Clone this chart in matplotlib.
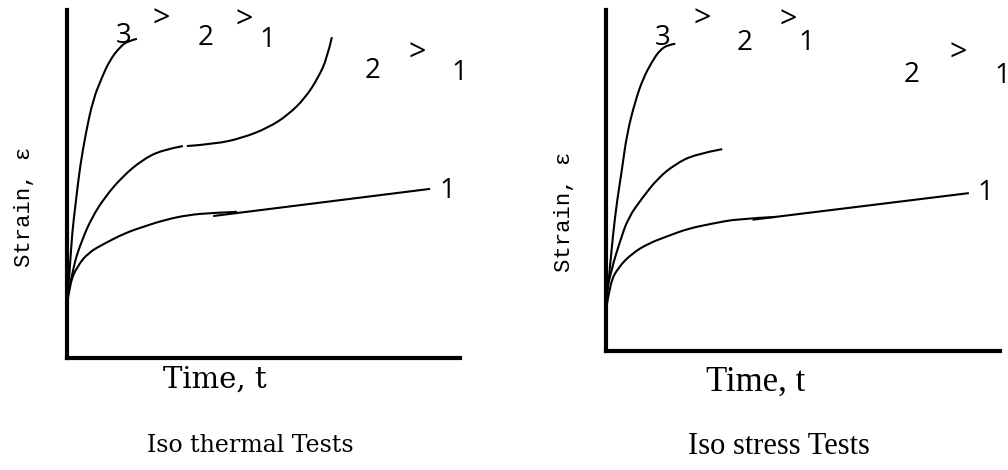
import matplotlib
matplotlib.use("Agg")
import matplotlib.pyplot as plt
from matplotlib.path import Path
from matplotlib.patches import PathPatch

W, H, DPI = 1008, 470, 100
INK = "black"

# creep curves, arbitrary units (time 0-100, strain 0-100)
# iso-thermal tests: three stress levels
iso_t_t3 = [0, 0.76, 1.3, 2.3, 3.3, 4.8, 6.6, 8.9, 10.9, 13.5, 15.5, 17.8]
iso_t_e3 = [15.8, 26.1, 35.9, 45.4, 54.9, 64.7, 74.1, 80.7, 85.6, 89.4, 91.1, 91.7]
iso_t_t2a = [0, 1.5, 3.8, 6.4, 9.7, 14.0, 19.1, 24.2, 29.5]
iso_t_e2a = [16.7, 26.1, 33.9, 40.5, 46.3, 52.0, 56.9, 59.8, 60.9]
iso_t_t2b = [30.5, 37.7, 44.5, 51.1, 56.2, 60.6, 63.9, 66.2, 67.4]
iso_t_e2b = [60.9, 61.5, 63.2, 66.1, 69.8, 74.7, 80.5, 86.2, 92.2]
iso_t_t1 = [0, 0.76, 2.5, 5.3, 9.7, 14.8, 19.1, 24.9, 30.8, 36.9, 43.3]
iso_t_e1 = [15.2, 21.6, 26.1, 30.2, 33.0, 35.9, 37.6, 39.7, 41.1, 41.7, 42.0]
iso_t_t1s = [37.2, 92.4]
iso_t_e1s = [40.8, 48.6]

# iso-stress tests: three temperatures
iso_s_t3 = [0, 1.0, 1.8, 2.8, 4.1, 5.3, 7.4, 9.4, 11.7, 13.7, 15.8, 17.6]
iso_s_e3 = [12.8, 24.5, 34.3, 44.0, 53.6, 63.6, 73.2, 79.9, 84.9, 88.3, 89.8, 90.1]
iso_s_t2 = [0, 1.5, 3.6, 5.6, 9.2, 13.2, 17.6, 22.6, 29.5]
iso_s_e2 = [16.9, 24.5, 32.3, 39.0, 44.9, 50.7, 54.8, 57.7, 59.2]
iso_s_t1 = [0, 1.0, 3.1, 6.6, 10.7, 15.9, 20.9, 26.7, 33.6, 43.0]
iso_s_e1 = [11.9, 19.9, 24.5, 28.6, 31.5, 33.8, 35.9, 37.3, 38.8, 39.3]
iso_s_t1s = [37.2, 92.1]
iso_s_e1s = [38.5, 46.3]

fig = plt.figure(figsize=(W / DPI, H / DPI), dpi=DPI)


def px_axes(x0, x1, ytop, ybot):
    ax = fig.add_axes([x0 / W, 1 - ybot / H, (x1 - x0) / W, (ybot - ytop) / H])
    ax.set_xlim(0, 100); ax.set_ylim(0, 100)
    ax.set_xticks([]); ax.set_yticks([])
    for sp in ["top", "right"]:
        ax.spines[sp].set_visible(False)
    for sp in ["left", "bottom"]:
        ax.spines[sp].set_linewidth(3.0); ax.spines[sp].set_color(INK)
    ax.patch.set_alpha(0)
    return ax


def curve(ax, t, e):
    # smooth quadratic B-spline through the sampled points
    pts = list(zip(t, e))
    if len(pts) < 3:
        verts, codes = pts, [Path.MOVETO, Path.LINETO]
    else:
        verts, codes = [pts[0]], [Path.MOVETO]
        for i in range(1, len(pts) - 1):
            nxt = pts[i + 1] if i == len(pts) - 2 else (
                (pts[i][0] + pts[i + 1][0]) / 2, (pts[i][1] + pts[i + 1][1]) / 2)
            verts += [pts[i], nxt]
            codes += [Path.CURVE3, Path.CURVE3]
    ax.add_patch(PathPatch(Path(verts, codes), facecolor="none", edgecolor=INK,
                           lw=1.5, capstyle="butt", clip_on=False))


def ftext(x, y, s, va="center", **kw):
    fig.text(x / W, 1 - y / H, s, ha="center", va=va, **kw)


NUM = dict(family="Open Sans", fontsize=20, color=INK, va="baseline")
GT = dict(family="Open Sans", fontsize=22, color=INK, va="baseline")

# left panel
axl = px_axes(67, 460, 10, 358)
curve(axl, iso_t_t3, iso_t_e3)
curve(axl, iso_t_t2a, iso_t_e2a)
curve(axl, iso_t_t2b, iso_t_e2b)
curve(axl, iso_t_t1, iso_t_e1)
curve(axl, iso_t_t1s, iso_t_e1s)

# right panel
axr = px_axes(606, 1000, 10, 351)
curve(axr, iso_s_t3, iso_s_e3)
curve(axr, iso_s_t2, iso_s_e2)
curve(axr, iso_s_t1, iso_s_e1)
curve(axr, iso_s_t1s, iso_s_e1s)

# ordering labels (baseline positions)
for x, y, s in [(124, 43, "3"), (206, 45, "2"), (267, 47, "1"),
                (373, 78, "2"), (459, 80, "1"), (447, 198, "1"),
                (663, 45, "3"), (745, 50, "2"), (806, 50, "1"),
                (912, 82, "2"), (1002, 83, "1"), (985, 200, "1")]:
    ftext(x, y, s, **NUM)
for x, y in [(161, 28), (244, 29), (417, 62), (702, 28), (788, 29), (958, 62)]:
    ftext(x, y, ">", **GT)

ftext(25, 207, "Strain, \u03b5", family="Liberation Mono", fontsize=16, rotation=90)
ftext(565, 212, "Strain, \u03b5", family="Liberation Mono", fontsize=16, rotation=90)

ftext(215, 380, "Time, t", family="DejaVu Serif", fontsize=21)
ftext(250, 445, "Iso thermal Tests", family="DejaVu Serif", fontsize=17)
ftext(756, 382, "Time, t", family="Liberation Serif", fontsize=25)
ftext(779, 447, "Iso stress Tests", family="Liberation Serif", fontsize=22)

fig.savefig("out.png", dpi=DPI, facecolor="white")
